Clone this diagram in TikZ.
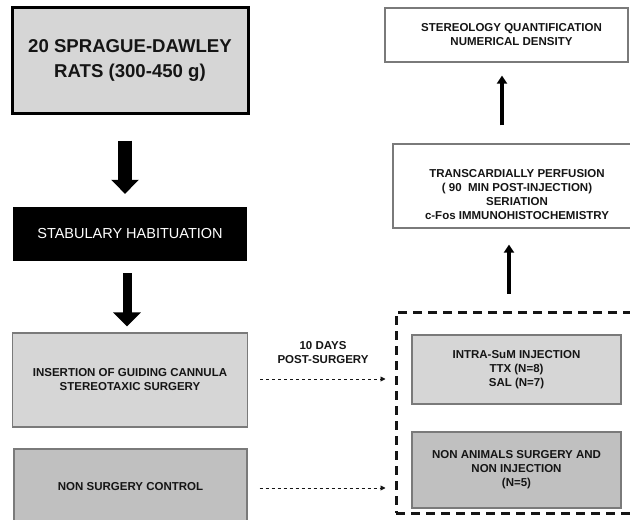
\documentclass[tikz,border=0pt]{standalone}
\usepackage{fontspec}
\setmainfont{Liberation Sans}
\usetikzlibrary{arrows.meta}
\definecolor{lightbox}{HTML}{D6D6D6}
\definecolor{darkbox}{HTML}{C0C0C0}
\definecolor{edgegray}{HTML}{7A7A7A}
\definecolor{ink}{HTML}{151515}
\tikzset{
  boxbase/.style={rectangle, inner sep=0pt, align=center, text=ink,
    font=\bfseries\fontsize{11.5}{14}\selectfont},
  graybox/.style={boxbase, draw=edgegray, line width=1.3pt, fill=lightbox},
  darkgraybox/.style={boxbase, draw=edgegray, line width=1.3pt, fill=darkbox},
  whitebox/.style={boxbase, draw=edgegray, line width=1.3pt, fill=white},
  bigarrow/.style={draw=black, -{Triangle[width=27pt,length=14pt]}},
  uparrow/.style={draw=black, line width=4.5pt, -{Triangle[width=10pt,length=8pt]}},
  dasharrow/.style={draw=ink, line width=0.9pt, dash pattern=on 3pt off 3pt,
    -{Triangle[width=5pt,length=5pt]}},
  groupbox/.style={draw=ink, line width=3pt, dash pattern=on 9pt off 6pt}
}
\begin{document}
\begin{tikzpicture}[x=1pt,y=-1pt]
\clip (0,0) rectangle (630,520);
\fill[white] (0,0) rectangle (630,520);

% left column
\node[boxbase, draw=black, line width=3pt, fill=lightbox,
      minimum width=236pt, minimum height=106pt,
      font=\bfseries\fontsize{18.6}{25}\selectfont] (rats) at (130,60)
  {20 SPRAGUE-DAWLEY\\RATS (300-450 g)};
\node[boxbase, fill=black, text=white, minimum width=234pt, minimum height=54pt,
      font=\fontsize{14.5}{17}\selectfont] (stab) at (130,234)
  {STABULARY HABITUATION};
\node[graybox, minimum width=235pt, minimum height=94pt] (insert) at (130,380)
  {INSERTION OF GUIDING CANNULA\\STEREOTAXIC SURGERY};
\node[darkgraybox, minimum width=233pt, minimum height=76pt] (nonsurg) at (130.5,487)
  {NON SURGERY CONTROL};

% right column
\node[whitebox, minimum width=243pt, minimum height=54pt] (stereo) at (506.5,35)
  {\hspace*{10pt}STEREOLOGY QUANTIFICATION\\\hspace*{10pt}NUMERICAL DENSITY};
\node[whitebox, minimum width=248pt, minimum height=84pt] (trans) at (517,186) {};
\node[boxbase] (transtext) at (517,194.5)
  {TRANSCARDIALLY PERFUSION\\( 90\ \ MIN POST-INJECTION)\\SERIATION\\c-Fos IMMUNOHISTOCHEMISTRY};

\node[groupbox, rectangle, minimum width=250pt, minimum height=201pt] (grp) at (521,412.5) {};
\node[graybox, minimum width=209pt, minimum height=69pt] (intra) at (516.5,369.5)
  {INTRA-SuM INJECTION\\TTX (N=8)\\SAL (N=7)};
\node[darkgraybox, minimum width=209pt, minimum height=76pt] (nonan) at (516.5,470)
  {NON ANIMALS SURGERY AND\\NON INJECTION\\(N=5)};

\node[boxbase] (days) at (323,353) {10 DAYS\\POST-SURGERY};

% thick down arrows
\draw[bigarrow, line width=14pt, shorten <=26pt, shorten >=13pt]
  ([xshift=-5pt]rats.south) -- ([xshift=-5pt]stab.north);
\draw[bigarrow, line width=9pt, shorten <=12pt, shorten >=6pt]
  ([xshift=-3pt]stab.south) -- ([xshift=-3pt]insert.north);

% up arrows
\draw[uparrow, shorten <=18pt, shorten >=13pt]
  (trans.north -| 502,0) -- (stereo.south -| 502,0);
\draw[uparrow, shorten <=17pt, shorten >=16pt]
  (grp.north -| 509,0) -- (trans.south -| 509,0);

% dashed arrows
\draw[dasharrow, shorten <=12pt, shorten >=9pt]
  ([yshift=1pt]insert.east) -- ([yshift=1pt]insert.east -| grp.west);
\draw[dasharrow, shorten <=12pt, shorten >=9pt]
  ([yshift=-1pt]nonsurg.east) -- ([yshift=-1pt]nonsurg.east -| grp.west);
\end{tikzpicture}
\end{document}
